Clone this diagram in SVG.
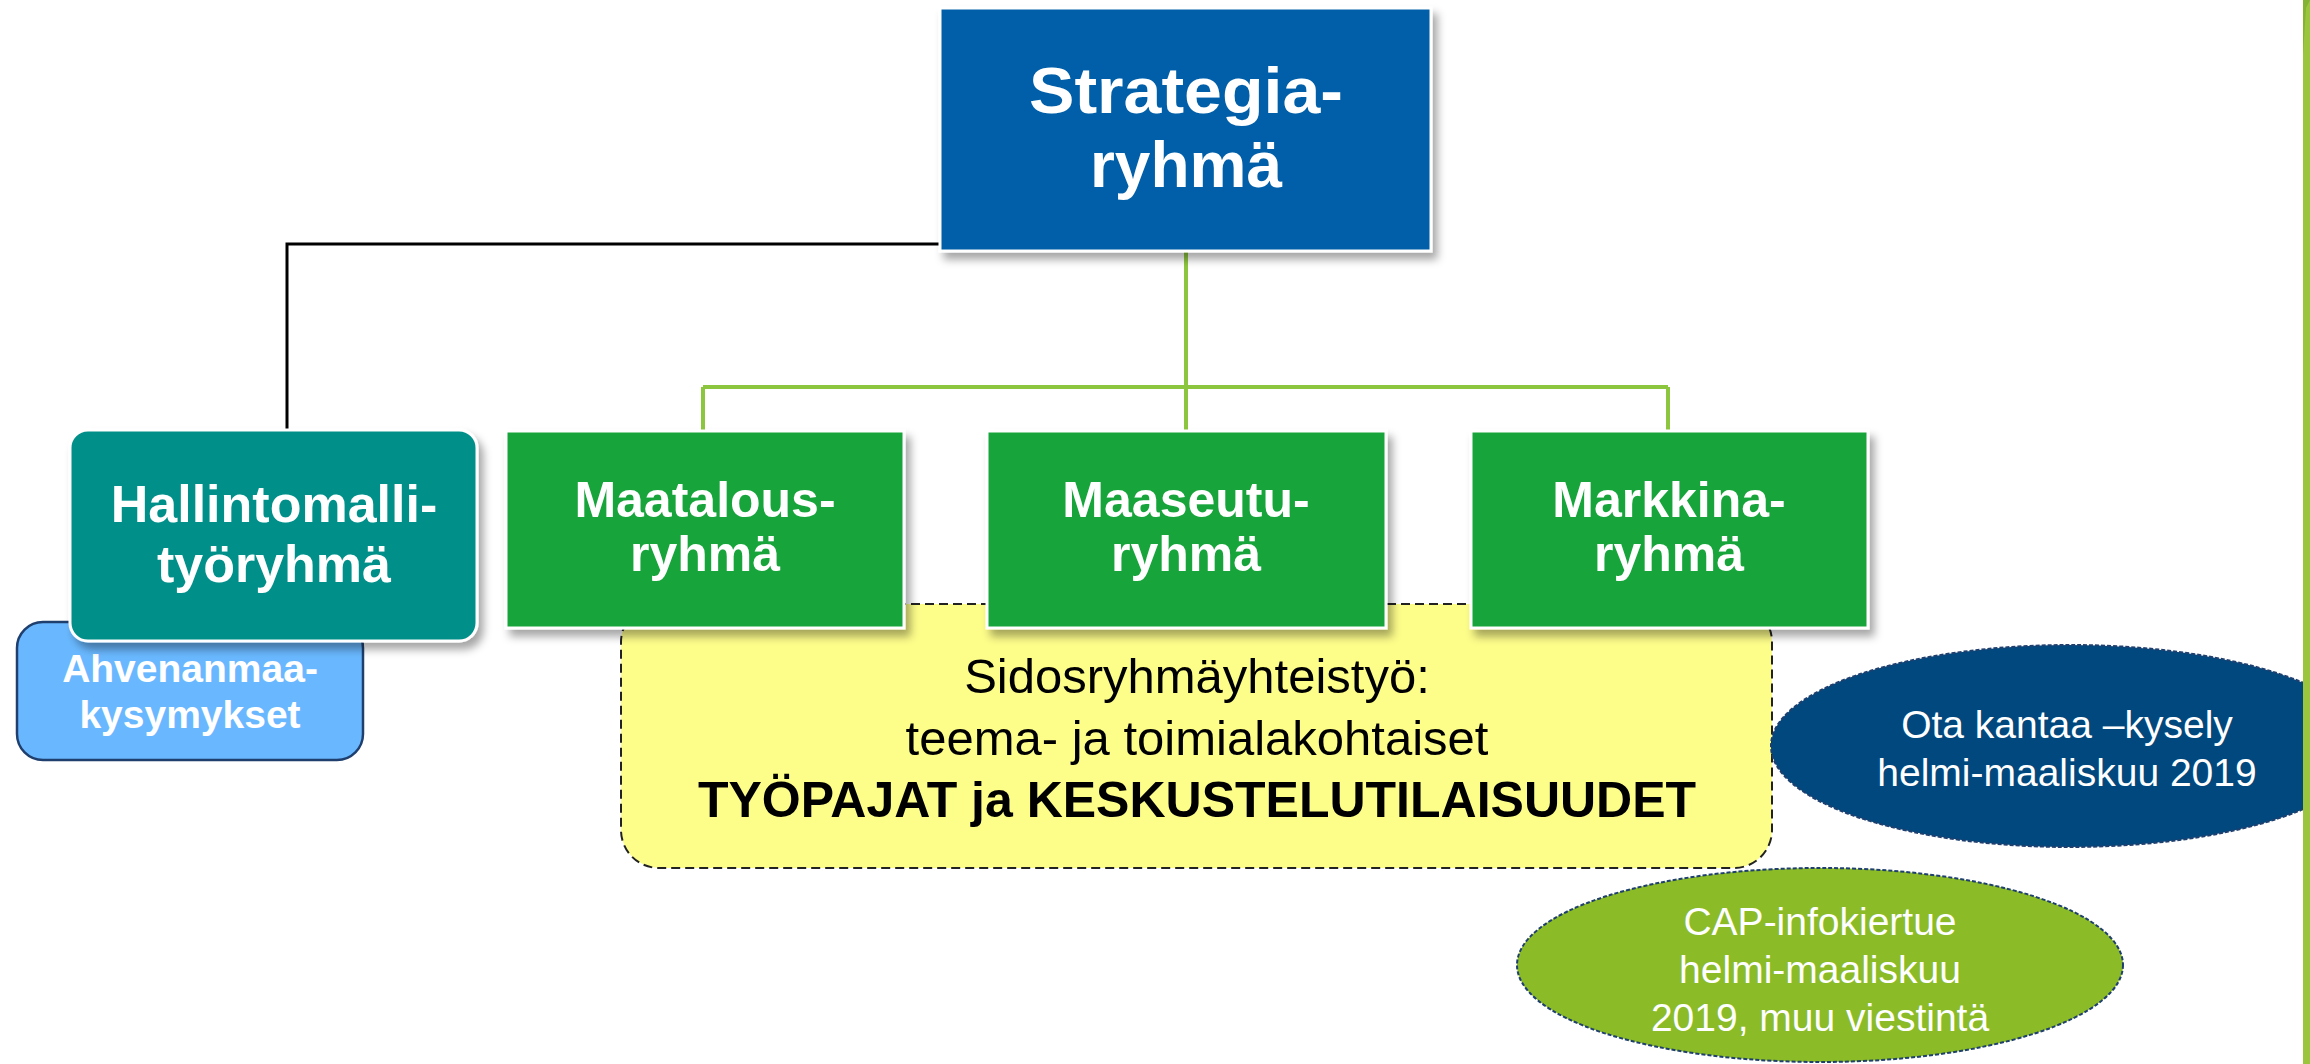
<svg xmlns="http://www.w3.org/2000/svg" width="2310" height="1064" viewBox="0 0 2310 1064">
<defs>
<filter id="sh" x="-10%" y="-10%" width="125%" height="135%">
<feDropShadow dx="5" dy="7" stdDeviation="4" flood-color="#000" flood-opacity="0.35"/>
</filter>
<style>
.t{font-family:"Liberation Sans",Arial,sans-serif;fill:#fff;text-anchor:middle}
.b{font-weight:bold}
.box{stroke:#fff;stroke-width:3;filter:url(#sh)}
.grn{fill:#16A43A}
.dark{fill:#000}
.con{fill:none}
</style>
</defs>
<rect x="0" y="0" width="2310" height="1064" fill="#fff"/>

<g id="connectors">
<path class="con" d="M941,244 H287 V430" stroke="#000" stroke-width="3"/>
<path class="con" d="M1186,252 V387 M703,387 H1668 M703,387 V431 M1186,387 V431 M1668,387 V431" stroke="#8CC63E" stroke-width="4"/>
</g>

<g id="sidosryhma">
<rect x="621" y="604" width="1151" height="264" rx="38" fill="#FDFD8A" stroke="#222" stroke-width="2" stroke-dasharray="9 5"/>
<text class="t dark" x="1197" y="693" font-size="49">Sidosryhmäyhteistyö:</text>
<text class="t dark" x="1197" y="755" font-size="49">teema- ja toimialakohtaiset</text>
<text class="t dark b" x="1197" y="817" font-size="50">TYÖPAJAT ja KESKUSTELUTILAISUUDET</text>
</g>

<g id="ahvenanmaa">
<rect x="17" y="622" width="346" height="138" rx="26" fill="#69B8FF" stroke="#1F3F6E" stroke-width="2.5"/>
<text class="t b" x="190" y="682" font-size="39">Ahvenanmaa-</text>
<text class="t b" x="190" y="728" font-size="39">kysymykset</text>
</g>

<g id="hallinto">
<rect class="box" x="70" y="430" width="407" height="211" rx="18" fill="#008F89"/>
<text class="t b" x="274" y="522" font-size="52">Hallintomalli-</text>
<text class="t b" x="274" y="582" font-size="52">työryhmä</text>
</g>

<g id="maatalous">
<rect class="box grn" x="506" y="431" width="398" height="197"/>
<text class="t b" x="705" y="517" font-size="50">Maatalous-</text>
<text class="t b" x="705" y="571" font-size="50">ryhmä</text>
</g>

<g id="maaseutu">
<rect class="box grn" x="987" y="431" width="399" height="197"/>
<text class="t b" x="1186" y="517" font-size="50">Maaseutu-</text>
<text class="t b" x="1186" y="571" font-size="50">ryhmä</text>
</g>

<g id="markkina">
<rect class="box grn" x="1471" y="431" width="397" height="197"/>
<text class="t b" x="1669" y="517" font-size="50">Markkina-</text>
<text class="t b" x="1669" y="571" font-size="50">ryhmä</text>
</g>

<g id="strategia">
<rect class="box" x="940" y="8" width="491" height="243" fill="#005FA8"/>
<text class="t b" x="1186" y="113" font-size="64" textLength="314" lengthAdjust="spacingAndGlyphs">Strategia-</text>
<text class="t b" x="1186" y="187" font-size="64">ryhmä</text>
</g>

<g id="cap">
<ellipse cx="1820" cy="965" rx="303" ry="97" fill="#8BBC27" stroke="#1F3F6E" stroke-width="2" stroke-dasharray="4 2"/>
<text class="t" x="1820" y="935" font-size="39">CAP-infokiertue</text>
<text class="t" x="1820" y="983" font-size="39">helmi-maaliskuu</text>
<text class="t" x="1820" y="1031" font-size="39">2019, muu viestintä</text>
</g>

<g id="otakantaa">
<ellipse cx="2070" cy="746" rx="299" ry="101" fill="#00487D" stroke="#1F3F6E" stroke-width="2" stroke-dasharray="4 2"/>
<text class="t" x="2067" y="738" font-size="39">Ota kantaa –kysely</text>
<text class="t" x="2067" y="786" font-size="39">helmi-maaliskuu 2019</text>
</g>

<g id="sidebar">
<rect x="2303" y="0" width="7" height="1064" fill="#9BC53D"/>
<polygon points="2303,0 2310,0 2306,8 2303,55" fill="#84B232"/>
</g>
</svg>
